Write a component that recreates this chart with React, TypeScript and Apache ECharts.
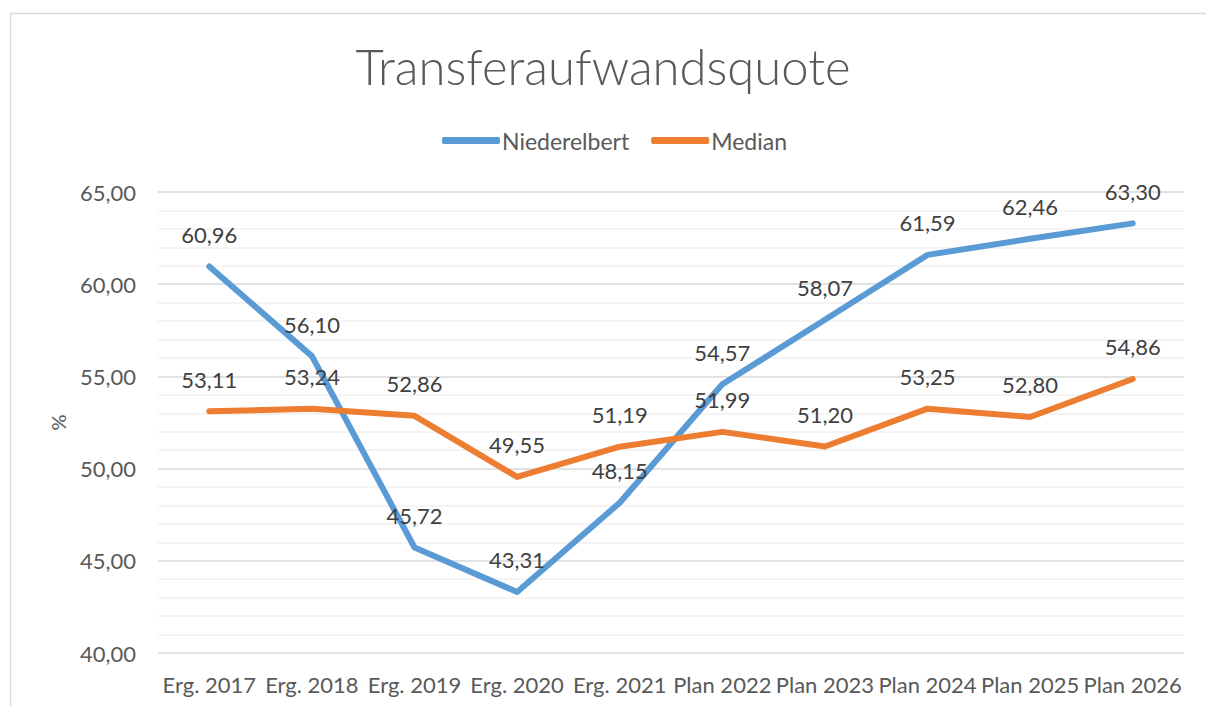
import React, { useEffect, useRef } from "react";
import * as echarts from "echarts";

const categories = ["Erg. 2017", "Erg. 2018", "Erg. 2019", "Erg. 2020", "Erg. 2021", "Plan 2022", "Plan 2023", "Plan 2024", "Plan 2025", "Plan 2026"];
const niederelbert = [60.96, 56.1, 45.72, 43.31, 48.15, 54.57, 58.07, 61.59, 62.46, 63.3];
const median = [53.11, 53.24, 52.86, 49.55, 51.19, 51.99, 51.2, 53.25, 52.8, 54.86];

const FONT = "Lato, 'Open Sans', sans-serif";
const fmt = (v: number) => v.toFixed(2).replace(".", ",");

export default function App() {
  const ref = useRef<HTMLDivElement>(null);
  useEffect(() => {
    document.body.style.margin = "0";
    const chart = echarts.init(ref.current!, null, { renderer: "svg" });
    const label = {
      show: true,
      position: "top" as const,
      distance: 21,
      color: "#404040",
      fontSize: 22,
      fontFamily: FONT,
      formatter: (p: any) => fmt(p.value),
    };
    chart.setOption({
      animation: false,
      backgroundColor: "#ffffff",
      title: {
        text: "Transferaufwandsquote",
        left: "center",
        top: 36,
        textStyle: { fontSize: 49, fontWeight: 300, color: "#595959", fontFamily: FONT },
      },
      legend: {
        top: 124,
        left: 437,
        itemWidth: 58,
        itemHeight: 7,
        itemGap: 22,
        icon: "roundRect",
        textStyle: { fontSize: 23, color: "#595959", fontFamily: FONT, padding: [0, 0, 0, -3] },
        data: ["Niederelbert", "Median"],
      },
      graphic: [
        {
          type: "rect",
          shape: { x: 10.5, y: 13.5, width: 1210, height: 710 },
          style: { fill: "none", stroke: "#d9d9d9", lineWidth: 1.5 },
          silent: true,
        },
      ],
      grid: { left: 158, right: 22, top: 192, bottom: 53 },
      xAxis: {
        type: "category",
        data: categories,
        boundaryGap: true,
        axisLine: { show: false },
        axisTick: { show: false },
        axisLabel: { interval: 0, fontSize: 22, color: "#595959", fontFamily: FONT, margin: 20 },
      },
      yAxis: {
        type: "value",
        min: 40,
        max: 65,
        interval: 5,
        name: "%",
        nameLocation: "middle",
        nameGap: 90,
        nameRotate: 90,
        nameTextStyle: { fontSize: 20, color: "#595959", fontFamily: FONT },
        axisLine: { show: false },
        axisTick: { show: false },
        axisLabel: { fontSize: 22, color: "#595959", fontFamily: FONT, margin: 22, formatter: (v: number) => fmt(v) },
        splitLine: { lineStyle: { color: "#d9d9d9", width: 1.5 } },
        minorTick: { show: false, splitNumber: 5 },
        minorSplitLine: { show: true, lineStyle: { color: "#f0f0f0", width: 1.5 } },
      },
      series: [
        {
          name: "Niederelbert",
          type: "line",
          data: niederelbert,
          showSymbol: true,
          symbol: "circle",
          symbolSize: 0.1,
          lineStyle: { color: "#5B9BD5", width: 6, cap: "round", join: "round" },
          itemStyle: { color: "#5B9BD5" },
          label,
          labelLayout: { hideOverlap: false },
          z: 2,
        },
        {
          name: "Median",
          type: "line",
          data: median,
          showSymbol: true,
          symbol: "circle",
          symbolSize: 0.1,
          lineStyle: { color: "#ED7D31", width: 6, cap: "round", join: "round" },
          itemStyle: { color: "#ED7D31" },
          label,
          labelLayout: { hideOverlap: false },
          z: 3,
        },
      ],
    });
    return () => chart.dispose();
  }, []);
  return <div ref={ref} style={{ width: 1206, height: 706, position: "fixed", left: 0, top: 0 }} />;
}
